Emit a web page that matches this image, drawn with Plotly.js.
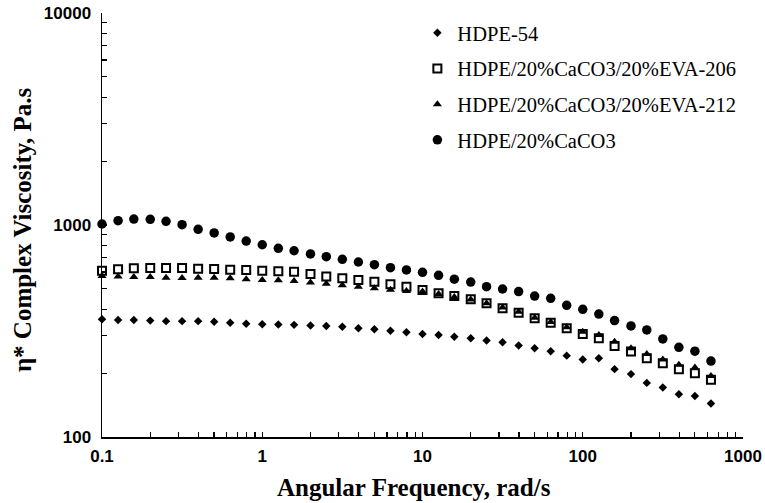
<!DOCTYPE html>
<html>
<head>
<meta charset="utf-8">
<script src="https://cdn.plot.ly/plotly-3.0.1.min.js"></script>
<style>
  html, body { margin: 0; padding: 0; background: #ffffff; }
  #chart { width: 765px; height: 503px; }
</style>
</head>
<body>
<div id="chart"></div>
<script>
// Angular frequency sweep, rad/s
const freq = [
  0.1, 0.126, 0.158, 0.2, 0.251, 0.316, 0.398, 0.501, 0.631, 0.794,
  1, 1.26, 1.58, 2, 2.51, 3.16, 3.98, 5.01, 6.31, 7.94,
  10, 12.6, 15.8, 20, 25.1, 31.6, 39.8, 50.1, 63.1, 79.4,
  100, 126, 158, 200, 251, 316, 398, 501, 631
];

// Complex viscosity, Pa.s
const hdpe54 = [
  359, 356, 356, 354, 352, 352, 352, 350, 346, 342,
  340, 339, 338, 336, 334, 331, 326, 322, 317, 312,
  306, 303, 297, 292, 285, 280, 270, 262, 254, 242,
  232, 235, 209, 198, 180, 171, 159, 156, 144
];
const eva206 = [
  609, 618, 625, 627, 627, 627, 622, 620, 615, 613,
  609, 605, 602, 588, 572, 561, 550, 540, 525, 512,
  494, 476, 462, 446, 427, 405, 386, 363, 346, 326,
  306, 292, 269, 253, 235, 223, 209, 200, 186
];
const eva212 = [
  575, 571, 569, 569, 564, 562, 564, 564, 561, 555,
  550, 549, 545, 535, 528, 520, 512, 503, 495, 488,
  485, 472, 458, 445, 428, 408, 390, 365, 349, 329,
  314, 303, 281, 262, 246, 232, 219, 213, 194
];
const caco3 = [
  1011, 1048, 1067, 1064, 1041, 1003, 954, 917, 878, 840,
  807, 776, 756, 730, 709, 689, 669, 650, 629, 614,
  598, 579, 555, 538, 512, 499, 485, 462, 451, 418,
  400, 380, 354, 334, 320, 290, 265, 254, 228
];

const seriesNames = [
  "HDPE-54",
  "HDPE/20%CaCO3/20%EVA-206",
  "HDPE/20%CaCO3/20%EVA-212",
  "HDPE/20%CaCO3"
];

const xDecades = [0.1, 1, 10, 100, 1000];
const yDecades = [100, 1000, 10000];
const xTitle = "Angular Frequency, rad/s";
const yTitle = "η* Complex Viscosity, Pa.s";

// log ticks at every 1..9 multiple, labelled only on decades
function logTicks(decades) {
  const vals = [], text = [];
  decades.forEach((d, i) => {
    vals.push(d); text.push(String(d));
    if (i < decades.length - 1) {
      for (let m = 2; m <= 9; m++) { vals.push(+(d * m).toPrecision(3)); text.push(""); }
    }
  });
  return { vals, text };
}
const xt = logTicks(xDecades);
const yt = logTicks(yDecades);

const markerDefs = [
  { symbol: "diamond", size: 6.5, color: "#000000" },
  { symbol: "square-open", size: 8, color: "#000000", line: { width: 2, color: "#000000" } },
  { symbol: "triangle-up", size: 8, color: "#000000" },
  { symbol: "circle", size: 9.5, color: "#000000" }
];
const values = [hdpe54, eva206, eva212, caco3];

const traces = values.map((v, i) => ({
  type: "scatter",
  mode: "markers",
  x: freq,
  y: v,
  name: seriesNames[i],
  legendgroup: "g" + i,
  marker: markerDefs[i],
  cliponaxis: false
}));

const axisFont = { family: "Liberation Sans, Arial, sans-serif", size: 17, color: "#000000", weight: "bold" };
const titleFont = { family: "Liberation Serif, Times New Roman, serif", size: 25, color: "#000000", weight: "bold" };

const layout = {
  width: 765,
  height: 503,
  margin: { l: 102, r: 22, t: 13, b: 66 },
  paper_bgcolor: "#ffffff",
  plot_bgcolor: "#ffffff",
  showlegend: true,
  legend: {
    x: 0.492, y: 1.0, xanchor: "left", yanchor: "top",
    traceorder: "grouped",
    tracegroupgap: 6,
    font: { family: "Liberation Serif, Times New Roman, serif", size: 20.5, color: "#000000" },
    bgcolor: "rgba(0,0,0,0)"
  },
  xaxis: {
    type: "log",
    range: [-1, 3],
    showgrid: false,
    zeroline: false,
    showline: true,
    linecolor: "#000000",
    linewidth: 1.5,
    ticks: "inside",
    ticklen: 5,
    tickwidth: 1.2,
    tickcolor: "#000000",
    tickmode: "array",
    tickvals: xt.vals,
    ticktext: xt.text,
    tickfont: axisFont,
    ticklabelstandoff: 3
  },
  yaxis: {
    type: "log",
    range: [2, 4],
    showgrid: false,
    zeroline: false,
    showline: true,
    linecolor: "#000000",
    linewidth: 1.5,
    ticks: "inside",
    ticklen: 5,
    tickwidth: 1.2,
    tickcolor: "#000000",
    tickmode: "array",
    tickvals: yt.vals,
    ticktext: yt.text,
    tickfont: axisFont,
    ticklabelstandoff: 6
  },
  annotations: [
    {
      text: xTitle, xref: "paper", yref: "paper",
      x: 0.487, y: -0.12, xanchor: "center", yanchor: "middle",
      showarrow: false, font: titleFont
    },
    {
      text: yTitle, xref: "paper", yref: "paper",
      x: -0.125, y: 0.49, xanchor: "center", yanchor: "middle",
      textangle: -90, showarrow: false, font: titleFont
    }
  ]
};

Plotly.newPlot("chart", traces, layout, { displayModeBar: false, staticPlot: true });
</script>
</body>
</html>
